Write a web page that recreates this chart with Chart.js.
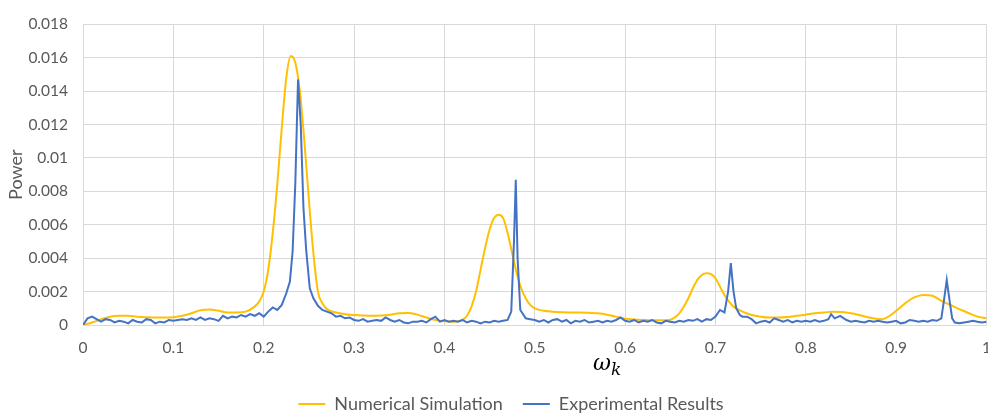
<!DOCTYPE html>
<html>
<head>
<meta charset="utf-8">
<script src="https://cdn.jsdelivr.net/npm/chart.js@4.4.0/dist/chart.umd.min.js"></script>
<style>
  body { margin: 0; overflow: hidden; background: #fff; }
  #wrap { width: 1005px; height: 416px; }
</style>
</head>
<body>
<div id="wrap"><canvas id="powerChart"></canvas></div>
<script>
// Numerical Simulation (yellow)
const simX = [
  0, .01, .02, .03, .04, .05, .06, .07, .08, .09, .1, .11, .12, .13, .14, .15, .16, .17, .18, .19,
  .195, .2, .205, .21, .215, .22, .225, .23, .235, .24, .245, .25, .255, .26, .265, .27,
  .28, .29, .3, .31, .32, .33, .34, .35, .36, .37, .38, .39, .4, .41, .42,
  .425, .43, .435, .44, .445, .45, .455, .46, .465, .47, .475, .48, .485, .49, .495, .5,
  .51, .52, .53, .54, .55, .56, .57, .58, .59, .6, .61, .62, .63, .64, .65, .66,
  .665, .67, .675, .68, .685, .69, .695, .7, .705, .71, .715, .72,
  .73, .74, .75, .76, .77, .78, .79, .8, .81, .82, .83, .84, .85, .86, .87, .88,
  .885,
  .89, .9, .91, .92, .93, .94, .95, .96, .97, .98, .99, 1
];
const simPower = [
  0, .00015, .00035, .0005, .00055, .00055, .0005, .00047, .00045, .00045, .00047, .00055, .0007, .00088, .00093, .00085, .00075, .00075, .0008, .0011,
  .0014, .002, .0033, .0055, .0084, .0118, .0148, .0161, .0157, .014, .011, .0075, .0043, .002, .0013, .00095,
  .00075, .00065, .0006, .00057, .00056, .00057, .00062, .0007, .00072, .00062, .00045, .0003, .00022, .0002, .0003,
  .00055, .0011, .002, .0033, .0046, .0057, .0064, .0066, .0064, .0055, .0043, .0031, .0022, .0016, .0012, .001,
  .00085, .0008, .00077, .00075, .00075, .00073, .0007, .00062, .0005, .00038, .00033, .0003, .00028, .00028, .00032, .0007,
  .0011, .0016, .0022, .0027, .003, .0031, .00305, .0028, .0023, .0018, .0014, .0011,
  .0008, .0006, .0005, .00045, .00045, .00048, .00055, .00062, .0007, .00075, .0008, .00078, .0007, .00058, .00045, .00036,
  .00035,
  .00045, .00085, .0013, .00165, .0018, .00175, .00145, .0012, .00095, .00072, .0005, .0004
];

// Experimental Results (blue)
const expX = [
  0, .005, .01, .015, .02, .025, .03, .035, .04, .045, .05, .055, .06, .065, .07, .075, .08, .085, .09, .095,
  .1, .105, .11, .115, .12, .125, .13, .135, .14, .145, .15, .155, .16, .165, .17, .175, .18, .185, .19, .195,
  .2, .205, .21, .215, .22, .225, .229, .232, .235, .238, .241, .244, .247, .251, .255, .26, .265, .27, .275,
  .28, .285, .29, .295, .3, .305, .31, .315, .32, .325, .33, .335, .34, .345, .35, .355, .36, .365, .37, .375,
  .38, .385, .39, .395, .4, .405, .41, .415, .42, .425, .43, .435, .44, .445, .45, .455, .46, .465, .47, .474, .477, .479, .481, .484,
  .49, .495, .5, .505, .51, .515, .52, .525, .53, .535, .54, .545, .55, .555, .56, .565, .57, .575, .58, .585, .59, .595,
  .6, .605, .61, .615, .62, .625, .63, .635, .64, .645, .65, .655, .66, .665, .67, .675, .68, .685, .69, .695, .7, .705, .71, .714, .717, .72, .723, .727,
  .73, .735, .74, .745, .75, .755, .76, .765, .77, .775, .78, .785, .79, .795, .8, .805, .81, .815, .82, .825, .828, .832, .838, .845,
  .85, .855, .86, .865, .87, .875, .88, .885, .89, .895, .9, .905, .91, .915, .92, .925, .93, .935, .94, .945, .95, .953, .956, .959, .962,
  .965, .97, .975, .98, .985, .99, .995, 1
];
const expPower = [
  0, .0004, .0005, .00035, .0002, .00035, .0003, .00015, .00025, .0002, .0001, .0003, .0002, .00015, .00035, .0003, .0001, .0002, .00015, .0003,
  .00025, .0003, .00035, .0003, .0004, .0003, .00045, .0003, .0004, .00035, .00025, .00055, .0004, .0005, .00045, .0006, .0005, .00065, .00055, .0007,
  .0005, .0008, .00105, .0009, .0012, .0019, .0026, .0044, .0085, .0147, .012, .007, .0045, .0022, .0016, .00115, .0009, .0008, .0007,
  .0005, .00055, .0004, .00045, .0003, .00025, .00035, .0002, .00025, .0003, .00025, .00045, .0003, .0002, .0003, .00015, .0001, .0002, .0002, .00025,
  .00015, .00035, .0005, .0002, .0003, .0002, .00025, .0002, .0003, .00015, .00025, .0002, .0001, .0002, .00015, .00025, .0002, .00025, .0003, .0008, .005, .0087, .004, .0009,
  .0004, .00035, .0003, .0002, .0003, .00015, .0003, .00035, .0002, .0003, .0001, .00025, .0002, .0003, .00015, .0002, .00025, .00015, .00025, .0002, .0003, .00045,
  .00025, .0002, .0003, .00015, .00025, .0002, .0003, .00015, .0001, .00025, .0002, .00015, .00025, .0002, .0003, .00025, .00035, .0002, .00035, .0003, .0005, .0009, .00075, .002, .0037, .002, .001, .0006,
  .0005, .0005, .00035, .0001, .0002, .00025, .00015, .0004, .0003, .0002, .0003, .00015, .00025, .0002, .00025, .0002, .0003, .0002, .00025, .00035, .00065, .0004, .00055, .0003,
  .0002, .00025, .0002, .00015, .00025, .0002, .00025, .0002, .00015, .0002, .00025, .0001, .00015, .0003, .00025, .0002, .00025, .0002, .0003, .00025, .0004, .0015, .0027, .0015, .0004,
  .00015, .0001, .00015, .0002, .00025, .0002, .00015, .0002
];

const seriesNames = ['Numerical Simulation', 'Experimental Results'];

const xMin = 0, xMax = 1, xStep = 0.1;
const yMin = 0, yMax = 0.018, yStep = 0.002;

const gray = '#595959';
const gridColor = '#d9d9d9';

// axis titles drawn by hand so the legend can stay centred like the original
const axisTitles = {
  id: 'axisTitles',
  afterDraw(chart) {
    const { ctx, chartArea } = chart;
    ctx.save();
    ctx.fillStyle = gray;
    ctx.font = '18px Lato';
    ctx.translate(16, (chartArea.top + chartArea.bottom) / 2);
    ctx.rotate(-Math.PI / 2);
    ctx.textAlign = 'center';
    ctx.textBaseline = 'middle';
    ctx.fillText('Power', 0, 0);
    ctx.restore();

    ctx.save();
    ctx.fillStyle = '#000';
    ctx.textBaseline = 'alphabetic';
    ctx.font = 'italic 22px "DejaVu Serif"';
    const x0 = chartArea.left + 510;
    const y0 = chartArea.bottom + 45;
    ctx.fillText('ω', x0, y0);
    const w = ctx.measureText('ω').width;
    ctx.font = 'italic 17px "DejaVu Serif"';
    ctx.fillText('k', x0 + w, y0 + 5);
    ctx.restore();
  }
};

const ctx = document.getElementById('powerChart').getContext('2d');
new Chart(ctx, {
  type: 'line',
  data: {
    datasets: [{
      label: seriesNames[0],
      data: simX.map((x, i) => ({ x: x, y: simPower[i] })),
      borderColor: '#ffc000',
      backgroundColor: '#ffc000',
      borderWidth: 2,
      pointRadius: 0,
      cubicInterpolationMode: 'monotone',
      order: 1
    }, {
      label: seriesNames[1],
      data: expX.map((x, i) => ({ x: x, y: expPower[i] })),
      borderColor: '#4472c4',
      backgroundColor: '#4472c4',
      borderWidth: 2,
      pointRadius: 0,
      tension: 0,
      order: 0
    }]
  },
  options: {
    responsive: true,
    maintainAspectRatio: false,
    animation: false,
    layout: { padding: { left: 17, top: 16, right: 0, bottom: 0 } },
    scales: {
      x: {
        type: 'linear',
        min: xMin,
        max: xMax,
        afterFit: function (scale) { scale.height = 50; },
        grid: { color: gridColor, drawTicks: false },
        border: { display: false },
        ticks: {
          stepSize: xStep,
          padding: 14,
          color: gray,
          font: { family: 'Lato', size: 15.5 },
          callback: v => String(+v.toFixed(1))
        }
      },
      y: {
        min: yMin,
        max: yMax,
        afterFit: function (scale) { scale.width = 66; },
        grid: { color: gridColor, drawTicks: false },
        border: { display: false },
        ticks: {
          stepSize: yStep,
          padding: 15,
          color: gray,
          font: { family: 'Lato', size: 15.5 },
          callback: v => String(+v.toFixed(3))
        }
      }
    },
    plugins: {
      tooltip: { enabled: false },
      legend: {
        position: 'bottom',
        maxHeight: 41,
        labels: {
          color: gray,
          font: { family: 'Lato', size: 18 },
          boxWidth: 27,
          boxHeight: 2,
          padding: 20,
          sort: (a, b) => a.datasetIndex - b.datasetIndex,
          generateLabels: function (chart) {
            const items = Chart.defaults.plugins.legend.labels.generateLabels(chart);
            items.forEach(it => { it.fillStyle = it.strokeStyle; it.lineWidth = 0; });
            return items;
          }
        }
      }
    }
  },
  plugins: [axisTitles]
});
</script>
</body>
</html>
